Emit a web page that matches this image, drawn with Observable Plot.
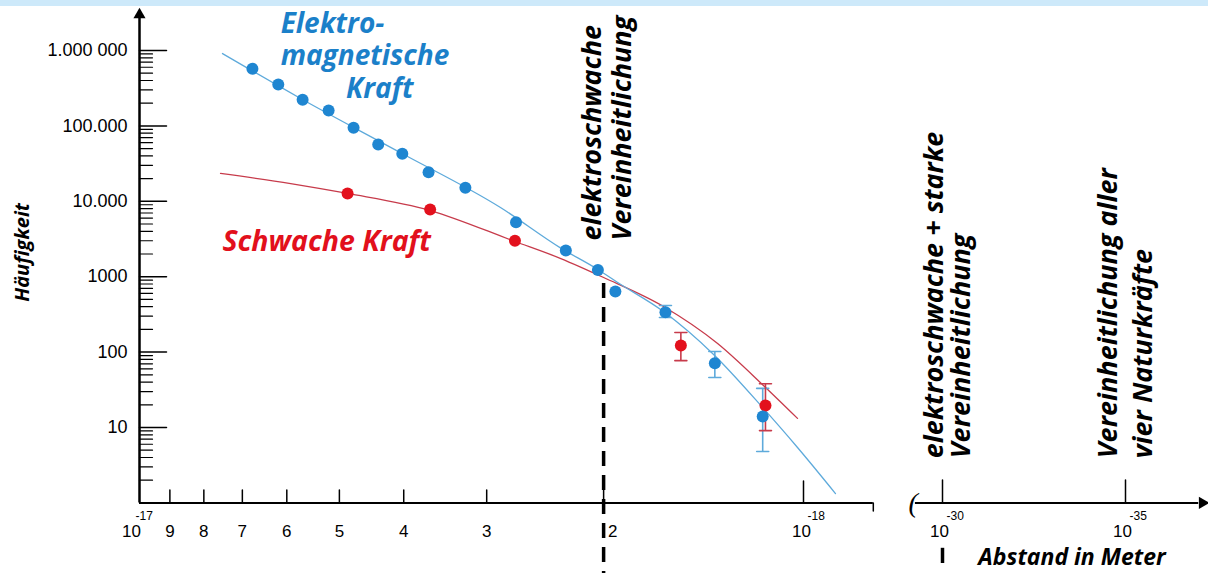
<!DOCTYPE html>
<html><head><meta charset="utf-8">
<script src="https://cdn.jsdelivr.net/npm/d3@7"></script>
<script src="https://cdn.jsdelivr.net/npm/@observablehq/plot@0.6"></script>
<style>
body{margin:0;background:#fff;}
#wrap{position:relative;width:1208px;height:573px;overflow:hidden;background:#fff;}
#band{position:absolute;left:0;top:0;width:1208px;height:6px;background:#cde9fa;z-index:5}
#wrap svg{position:absolute;left:0;top:0}
</style></head><body><div id="wrap"><div id="band"></div></div>
<script>
// distances in units of 1e-18 m
const E = 1e-18;
const emDistance = [6.76, 6.18, 5.68, 5.19, 4.76, 4.37, 4.02, 3.67, 3.23, 2.71, 2.28, 2.04, 1.92, 1.614, 1.36, 1.152];
const emValue = [572000, 354000, 222000, 160000, 94400, 56600, 42700, 24300, 15100, 5280, 2220, 1230, 637, 338, 71.3, 14.0];
const emErrDistance = [1.614, 1.36, 1.152];
const emErrLow = [288, 46, 4.8];
const emErrHigh = [415, 102, 33];
const weakDistance = [4.86, 3.65, 2.72, 1.53, 1.141];
const weakValue = [12700, 7800, 3000, 122, 19.6];
const weakErrDistance = [1.53, 1.141];
const weakErrLow = [77, 9.1];
const weakErrHigh = [182, 38];
const emFitDistance = [7.50, 5.72, 4.05, 2.86, 2.32, 2.04, 1.905, 1.625, 1.366, 1.149, 1.021, 0.895];
const emFitValue = [912000, 231000, 44400, 8270, 2390, 1245, 838, 345, 93, 17.9, 5.43, 1.33];
const weakFitDistance = [7.55, 5.92, 4.86, 3.65, 2.72, 2.32, 2.0, 1.625, 1.347, 1.149, 1.021];
const weakFitValue = [23400, 17200, 12700, 7550, 2930, 1740, 976, 403, 130, 36.1, 13.2];
const yTickValues = [10, 100, 1000, 10000, 100000, 1000000];
const yTickLabels = ["10", "100", "1000", "10.000", "100.000", "1.000 000"];
const xTickMantissas = [9, 8, 7, 6, 5, 4, 3, 2];
const xTickLabels = ["9", "8", "7", "6", "5", "4", "3", "2"];
const farExponents = [-30, -35];
const emLabel = ["Elektro-", "magnetische", "Kraft"];
const weakLabel = ["Schwache Kraft"];
const ewLabel = ["elektroschwache", "Vereinheitlichung"];
const ewsLabel = ["elektroschwache + starke", "Vereinheitlichung"];
const allLabel = ["Vereinheitlichung aller", "vier Naturkräfte"];
const yTitle = ["Häufigkeit"];
const xTitle = ["Abstand in Meter"];

const C = {dot: "#1f86d1", line: "#5eaadb", red: "#e3111d", redLine: "#c73b4b", blueText: "#1b80c9", redText: "#e2101c"};
const zip = (xs, ys) => xs.map((x, i) => ({x: x * E, y: ys[i]}));
const em = zip(emDistance, emValue);
const weak = zip(weakDistance, weakValue);
const emFit = zip(emFitDistance, emFitValue);
const weakFit = zip(weakFitDistance, weakFitValue);
const emErr = emErrDistance.map((x, i) => ({x: x * E, lo: emErrLow[i], hi: emErrHigh[i]}));
const weakErr = weakErrDistance.map((x, i) => ({x: x * E, lo: weakErrLow[i], hi: weakErrHigh[i]}));
const caps = (err) => err.flatMap(d => [{x: d.x, y: d.lo}, {x: d.x, y: d.hi}]);
const minorY = d3.range(0, 6).flatMap(k => d3.range(2, 10).map(m => m * 10 ** k));
// the third line of the blue label is indented
const emLabelText = emLabel[0] + "\n" + emLabel[1] + "\n" + "\u00A0".repeat(9) + emLabel[2];

const line = {draw(ctx, l) { ctx.moveTo(0, 0); ctx.lineTo(0, -l); }};
const F = {fontFamily: "'Open Sans', sans-serif", fontWeight: 700, fontStyle: "italic"};
const A = {fontFamily: "'Liberation Sans', Arial, sans-serif"};
const yScale = {type: "log", domain: [1, 1e6], range: [502.4, 50], axis: null};
const base = {width: 1208, height: 573, margin: 0, style: {background: "transparent", overflow: "visible"}};

const p1 = Plot.plot({
  ...base,
  x: {type: "log", domain: [1e-17, 1e-18], range: [139, 803], axis: null},
  y: yScale,
  marks: [
    // axes
    Plot.ruleY([1], {x1: 1e-17, x2: 0.785e-18, strokeWidth: 2}),
    Plot.vector([0.785e-18], {x: d => d, y: 1, rotate: 180, length: 8, anchor: "start", shape: line, strokeWidth: 1.5}),
    Plot.ruleX([1e-17], {y1: 1, y2: 10 ** 6.45, strokeWidth: 2.5}),
    Plot.dot([1e-17], {x: d => d, y: 10 ** 6.473, symbol: "triangle", r: 4.5, fill: "black", stroke: "none"}),
    Plot.vector(yTickValues, {x: 1e-17, y: d => d, rotate: 90, length: 27, anchor: "start", shape: line, strokeWidth: 1.5}),
    Plot.vector(minorY, {x: 1e-17, y: d => d, rotate: 90, length: 13, anchor: "start", shape: line, strokeWidth: 1.2}),
    Plot.text(yTickLabels, {x: 1e-17, y: (d, i) => yTickValues[i], text: d => d, dx: -12, textAnchor: "end", lineAnchor: "middle", fontSize: 18, ...A}),
    Plot.vector(xTickMantissas, {x: d => d * E, y: 1, rotate: 0, length: 13, anchor: "start", shape: line, strokeWidth: 1.5}),
    Plot.vector([1e-18], {x: d => d, y: 1, rotate: 0, length: 22, anchor: "start", shape: line, strokeWidth: 1.5}),
    Plot.text(xTickLabels, {filter: (d, i) => i < 7, x: (d, i) => xTickMantissas[i] * E, y: 1, text: d => d, dy: 29, lineAnchor: "middle", fontSize: 17, ...A}),
    Plot.text(xTickLabels, {filter: (d, i) => i === 7, x: (d, i) => xTickMantissas[i] * E, y: 1, text: d => d, dx: 9, dy: 29, lineAnchor: "middle", fontSize: 17, ...A}),
    Plot.text(["10"], {x: 1e-17, y: 1, text: d => d, dx: -8, dy: 29, lineAnchor: "middle", fontSize: 17, ...A}),
    Plot.text(["-17"], {x: 1e-17, y: 1, text: d => d, dx: -4, dy: 13, textAnchor: "start", lineAnchor: "middle", fontSize: 12, ...A}),
    Plot.text(["10"], {x: 1e-18, y: 1, text: d => d, dx: -2, dy: 29, lineAnchor: "middle", fontSize: 17, ...A}),
    Plot.text(["-18"], {x: 1e-18, y: 1, text: d => d, dx: 4, dy: 13, textAnchor: "start", lineAnchor: "middle", fontSize: 12, ...A}),
    // fits
    Plot.line(weakFit, {x: "x", y: "y", stroke: C.redLine, strokeWidth: 1.3, curve: "monotone-x"}),
    Plot.line(emFit, {x: "x", y: "y", stroke: C.line, strokeWidth: 1.3, curve: "monotone-x"}),
    // dashed unification line
    Plot.ruleX([2e-18], {y1: 813, y2: 0.11, strokeWidth: 3.5, strokeDasharray: "15,9"}),
    // error bars
    Plot.ruleX(emErr, {x: "x", y1: "lo", y2: "hi", stroke: C.line, strokeWidth: 1.6}),
    Plot.vector(caps(emErr), {x: "x", y: "y", rotate: 90, length: 12, anchor: "middle", shape: line, stroke: C.line, strokeWidth: 1.6}),
    Plot.ruleX(weakErr, {x: "x", y1: "lo", y2: "hi", stroke: C.redLine, strokeWidth: 1.6}),
    Plot.vector(caps(weakErr), {x: "x", y: "y", rotate: 90, length: 12, anchor: "middle", shape: line, stroke: C.redLine, strokeWidth: 1.6}),
    // points
    Plot.dot(weak, {x: "x", y: "y", r: 6, fill: C.red}),
    Plot.dot(em, {x: "x", y: "y", r: 6, fill: C.dot}),
    // labels
    Plot.text([emLabelText], {x: 6.13e-18, y: 238000, text: d => d, textAnchor: "start", lineAnchor: "bottom", lineHeight: 1.16, fontSize: 28, fill: C.blueText, ...F}),
    Plot.text(weakLabel, {x: 7.5e-18, y: 2220, text: d => d, textAnchor: "start", lineAnchor: "bottom", fontSize: 28.5, fill: C.redText, ...F}),
    Plot.text(ewLabel, {filter: (d, i) => i === 0, x: 2e-18, y: 3020, text: d => d, dx: -3, rotate: -90, textAnchor: "start", lineAnchor: "bottom", fontSize: 27, fill: "black", ...F}),
    Plot.text(ewLabel, {filter: (d, i) => i === 1, x: 2e-18, y: 3020, text: d => d, dx: 27, rotate: -90, textAnchor: "start", lineAnchor: "bottom", fontSize: 27, fill: "black", ...F}),
    Plot.text(yTitle, {x: 14.65e-18, y: 2100, text: d => d, rotate: -90, textAnchor: "middle", lineAnchor: "bottom", fontSize: 20, fill: "black", ...F})
  ]
});

const p2 = Plot.plot({
  ...base,
  x: {type: "log", domain: [1e-30, 1e-35], range: [942, 1125], axis: null},
  y: yScale,
  marks: [
    Plot.ruleY([1], {x1: 10 ** -29.26, x2: 10 ** -37.0, strokeWidth: 2}),
    Plot.dot([10 ** -37.1], {x: d => d, y: 1, symbol: "triangle", rotate: 90, r: 4.5, fill: "black", stroke: "none"}),
    Plot.text(["("], {x: 10 ** -29.2, y: 1, text: d => d, lineAnchor: "middle", fontSize: 28, fontFamily: "'Liberation Serif', serif", fontStyle: "italic"}),
    Plot.vector(farExponents, {x: d => 10 ** d, y: 1, rotate: 0, length: 23, anchor: "start", shape: line, strokeWidth: 1.5}),
    Plot.text(farExponents, {x: d => 10 ** d, y: 1, text: () => "10", dx: -3, dy: 29, lineAnchor: "middle", fontSize: 17, ...A}),
    Plot.text(farExponents, {x: d => 10 ** d, y: 1, text: d => String(d), dx: 4, dy: 13, textAnchor: "start", lineAnchor: "middle", fontSize: 12, ...A}),
    Plot.ruleX([1e-30], {y1: 0.25, y2: 0.157, strokeWidth: 3.5}),
    Plot.text(ewsLabel, {filter: (d, i) => i === 0, x: 1e-30, y: 3.9, text: d => d, dx: 0, rotate: -90, textAnchor: "start", lineAnchor: "bottom", fontSize: 27, fill: "black", ...F}),
    Plot.text(ewsLabel, {filter: (d, i) => i === 1, x: 1e-30, y: 3.9, text: d => d, dx: 27, rotate: -90, textAnchor: "start", lineAnchor: "bottom", fontSize: 27, fill: "black", ...F}),
    Plot.text(allLabel, {filter: (d, i) => i === 0, x: 1e-35, y: 3.9, text: d => d, dx: -9, rotate: -90, textAnchor: "start", lineAnchor: "bottom", fontSize: 27, fill: "black", ...F}),
    Plot.text(allLabel, {filter: (d, i) => i === 1, x: 1e-35, y: 3.9, text: d => d, dx: 26, rotate: -90, textAnchor: "start", lineAnchor: "bottom", fontSize: 27, fill: "black", ...F}),
    Plot.text(xTitle, {x: 10 ** -30.98, y: 0.148, text: d => d, textAnchor: "start", lineAnchor: "bottom", fontSize: 23, fill: "black", ...F})
  ]
});

const wrap = document.getElementById("wrap");
wrap.appendChild(p1);
wrap.appendChild(p2);
</script>
</body></html>
